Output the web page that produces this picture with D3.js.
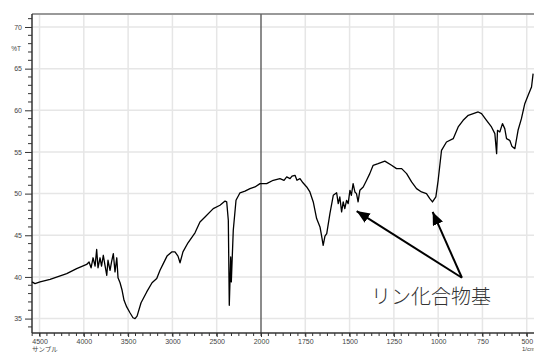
<!DOCTYPE html>
<html>
<head>
<meta charset="utf-8">
<script src="https://cdn.jsdelivr.net/npm/d3@7"></script>
<style>
  body { margin: 0; background: #fff; }
  svg { display: block; }
</style>
</head>
<body>
<div id="chart"></div>
<script>
// IR spectrum, values
var wavenumber = [
  4585, 4551, 4494, 4381, 4193, 4081, 3968, 3941, 3918, 3896, 3873, 3855, 3840, 3817, 3800,
  3780, 3761, 3741, 3727, 3704, 3687, 3667, 3648, 3628, 3614, 3591, 3568, 3546, 3516, 3479,
  3445, 3422, 3399, 3354, 3290, 3230, 3177, 3140, 3103, 3061, 3008, 2971, 2937, 2914, 2881,
  2824, 2745, 2689, 2632, 2539, 2463, 2406, 2387, 2369, 2358, 2342, 2335, 2313, 2282, 2237,
  2181, 2124, 2068, 2011,
  1968, 1931, 1893, 1870, 1855, 1836, 1825, 1808, 1797, 1780, 1763, 1742, 1724, 1705, 1686,
  1667, 1656, 1649, 1639, 1629, 1611, 1592, 1573, 1564, 1555, 1545, 1536, 1527, 1517, 1508,
  1498, 1490, 1480, 1470, 1461, 1452, 1442, 1423, 1404, 1386, 1367, 1339, 1301, 1263, 1235,
  1206, 1178, 1150, 1122, 1094, 1066, 1047, 1032, 1013, 1000, 981, 953, 915, 887, 859,
  830, 802, 774, 755, 727, 699, 680, 670, 665, 652, 637, 624, 614, 596, 584,
  567, 549, 530, 511, 492, 473, 464
];
var transmittance = [
  39.4, 39.2, 39.4, 39.7, 40.4, 41.0, 41.5, 41.8, 41.1, 42.3, 41.3, 43.3, 41.1, 42.3, 41.3,
  42.6, 41.4, 40.2, 42.0, 40.8, 41.8, 42.8, 40.6, 42.3, 39.9, 39.3, 38.4, 37.2, 36.4, 35.7,
  35.1, 35.0, 35.3, 36.9, 38.2, 39.3, 39.8, 40.8, 41.6, 42.5, 43.0, 43.0, 42.5, 41.7, 43.0,
  44.1, 45.3, 46.6, 47.2, 48.2, 48.6, 49.1, 49.0, 46.8, 36.6, 42.4, 39.4, 45.6, 49.2, 50.1,
  50.3, 50.6, 50.8, 51.2,
  51.2, 51.6, 51.8, 51.6, 52.0, 51.8, 52.1, 52.2, 51.6, 51.8, 51.3, 50.8, 50.2, 49.0, 47.0,
  46.0, 44.7, 43.8, 44.9, 45.2, 47.6, 49.8, 50.1, 48.8, 49.6, 47.8, 49.0, 48.2, 49.2, 48.8,
  50.4, 49.8, 51.2, 50.2, 50.0, 49.0, 50.4, 50.8, 51.6, 52.4, 53.4, 53.6, 53.9, 53.4, 53.0,
  53.0, 52.4, 51.4, 50.6, 50.2, 50.0, 49.4, 49.0, 49.6, 51.6, 55.2, 56.2, 56.6, 58.0, 58.8,
  59.4, 59.6, 59.8, 59.6, 58.8, 58.0, 57.2, 54.8, 57.6, 57.4, 58.4, 57.8, 56.6, 56.4, 55.7,
  55.4, 57.6, 59.0, 60.8, 61.8, 62.8, 64.4
];

var xTicks = [4500, 4000, 3500, 3000, 2500, 2000, 1750, 1500, 1250, 1000, 750, 500];
var yTicks = [35, 40, 45, 50, 55, 60, 65, 70];

// annotation: label and the two peaks it points at (data coords)
var noteText = 'リン化合物基';
var noteAt = [1040, 36.7];
var noteTail = [866, 39.9];
var noteTips = [[1460, 47.9], [1031, 47.8]];

var W = 534, H = 352;
var padL = 32, padT = 14, padB = 333;

var svg = d3.select('#chart').append('svg')
  .attr('width', W)
  .attr('height', H);

// scale break at 2000: the high side is compressed by half
var x = d3.scaleLinear()
  .domain([4585, 2000, 459])
  .range([padL, 261, W]);

var y = d3.scaleLinear()
  .domain([33.27, 71.56])
  .range([padB, padT]);

// grid
var grid = svg.append('g');
grid.selectAll('line.gx')
  .data(xTicks.filter(function(d) { return d !== 2000; }))
  .enter().append('line')
  .attr('class', 'gx')
  .attr('x1', function(d) { return x(d); })
  .attr('x2', function(d) { return x(d); })
  .attr('y1', padT)
  .attr('y2', padB)
  .attr('stroke', '#e6e6e6')
  .attr('stroke-width', 1.5);

grid.selectAll('line.gy')
  .data(yTicks)
  .enter().append('line')
  .attr('class', 'gy')
  .attr('x1', padL)
  .attr('x2', W)
  .attr('y1', function(d) { return y(d); })
  .attr('y2', function(d) { return y(d); })
  .attr('stroke', '#e6e6e6')
  .attr('stroke-width', 1.5);

// top frame
svg.append('line')
  .attr('x1', padL).attr('x2', W)
  .attr('y1', padT).attr('y2', padT)
  .attr('stroke', '#999')
  .attr('stroke-width', 2);

// scale-break line at 2000
svg.append('line')
  .attr('x1', x(2000)).attr('x2', x(2000))
  .attr('y1', padT).attr('y2', padB)
  .attr('stroke', '#666')
  .attr('stroke-width', 1.5);

// minor ticks
var xMinor = [];
d3.range(4583.3, 2000, -500 / 6).forEach(function(v) { xMinor.push(v); });
d3.range(2000, 459, -250 / 6).forEach(function(v) { xMinor.push(v); });

var yMinor = d3.range(34, 72, 1);

// y axis
var yAxis = d3.axisLeft(y)
  .tickValues(yTicks)
  .tickSize(7)
  .tickPadding(3)
  .tickFormat(d3.format('d'));

var gy = svg.append('g')
  .attr('transform', 'translate(' + padL + ',0)')
  .call(yAxis);

gy.selectAll('line.minor')
  .data(yMinor.filter(function(d) { return d % 5 !== 0; }))
  .enter().append('line')
  .attr('class', 'minor')
  .attr('x1', -4).attr('x2', 0)
  .attr('y1', function(d) { return y(d); })
  .attr('y2', function(d) { return y(d); })
  .attr('stroke', '#333')
  .attr('stroke-width', 1);

gy.select('.domain').attr('d', 'M0,' + padT + 'V' + padB).attr('stroke', '#333').attr('stroke-width', 1.5);

// x axis
var xAxis = d3.axisBottom(x)
  .tickValues(xTicks)
  .tickSize(4)
  .tickPadding(2)
  .tickFormat(d3.format('d'));

var gx = svg.append('g')
  .attr('transform', 'translate(0,' + padB + ')')
  .call(xAxis);

gx.selectAll('line.minor')
  .data(xMinor)
  .enter().append('line')
  .attr('class', 'minor')
  .attr('x1', function(d) { return x(d); })
  .attr('x2', function(d) { return x(d); })
  .attr('y1', 0).attr('y2', 3)
  .attr('stroke', '#333')
  .attr('stroke-width', 1);

gx.select('.domain').attr('d', 'M' + padL + ',0H' + W).attr('stroke', '#333').attr('stroke-width', 1.5);

svg.selectAll('.tick line').attr('stroke', '#333').attr('stroke-width', 1);
svg.selectAll('.tick text')
  .attr('fill', '#444')
  .style('font-family', '"Liberation Sans", Arial, sans-serif')
  .style('font-size', '7px');

// axis titles
svg.append('text')
  .attr('x', 16).attr('y', 50.5)
  .attr('text-anchor', 'middle')
  .attr('fill', '#444')
  .style('font-family', '"Liberation Sans", Arial, sans-serif')
  .style('font-size', '6.5px')
  .text('%T');

svg.append('text')
  .attr('x', 32).attr('y', 351.5)
  .attr('fill', '#444')
  .style('font-family', '"Noto Sans CJK JP", sans-serif')
  .style('font-size', '6.5px')
  .text('サンプル');

svg.append('text')
  .attr('x', 522).attr('y', 351)
  .attr('fill', '#444')
  .style('font-family', '"Liberation Sans", Arial, sans-serif')
  .style('font-size', '6px')
  .text('1/cm');

// spectrum
var pts = wavenumber.map(function(d, i) { return [d, transmittance[i]]; });

var line = d3.line()
  .x(function(d) { return x(d[0]); })
  .y(function(d) { return y(d[1]); });

svg.append('path')
  .datum(pts)
  .attr('d', line)
  .attr('fill', 'none')
  .attr('stroke', '#000')
  .attr('stroke-width', 1.3)
  .attr('stroke-linejoin', 'round');

// annotation arrows
var defs = svg.append('defs');
defs.append('marker')
  .attr('id', 'head')
  .attr('viewBox', '0 0 13 11')
  .attr('refX', 13)
  .attr('refY', 5.5)
  .attr('markerWidth', 13)
  .attr('markerHeight', 11)
  .attr('markerUnits', 'userSpaceOnUse')
  .attr('orient', 'auto')
  .append('path')
  .attr('d', 'M0,0L13,5.5L0,11Z')
  .attr('fill', '#000');

svg.selectAll('line.arrow')
  .data(noteTips)
  .enter().append('line')
  .attr('class', 'arrow')
  .attr('x1', x(noteTail[0]))
  .attr('y1', y(noteTail[1]))
  .attr('x2', function(d) { return x(d[0]); })
  .attr('y2', function(d) { return y(d[1]); })
  .attr('stroke', '#000')
  .attr('stroke-width', 2)
  .attr('marker-end', 'url(#head)');

svg.append('text')
  .attr('x', x(noteAt[0]))
  .attr('y', y(noteAt[1]))
  .attr('text-anchor', 'middle')
  .attr('fill', '#333')
  .style('font-family', '"Noto Sans CJK JP", sans-serif')
  .style('font-weight', 300)
  .style('font-size', '20px')
  .text(noteText);
</script>
</body>
</html>
